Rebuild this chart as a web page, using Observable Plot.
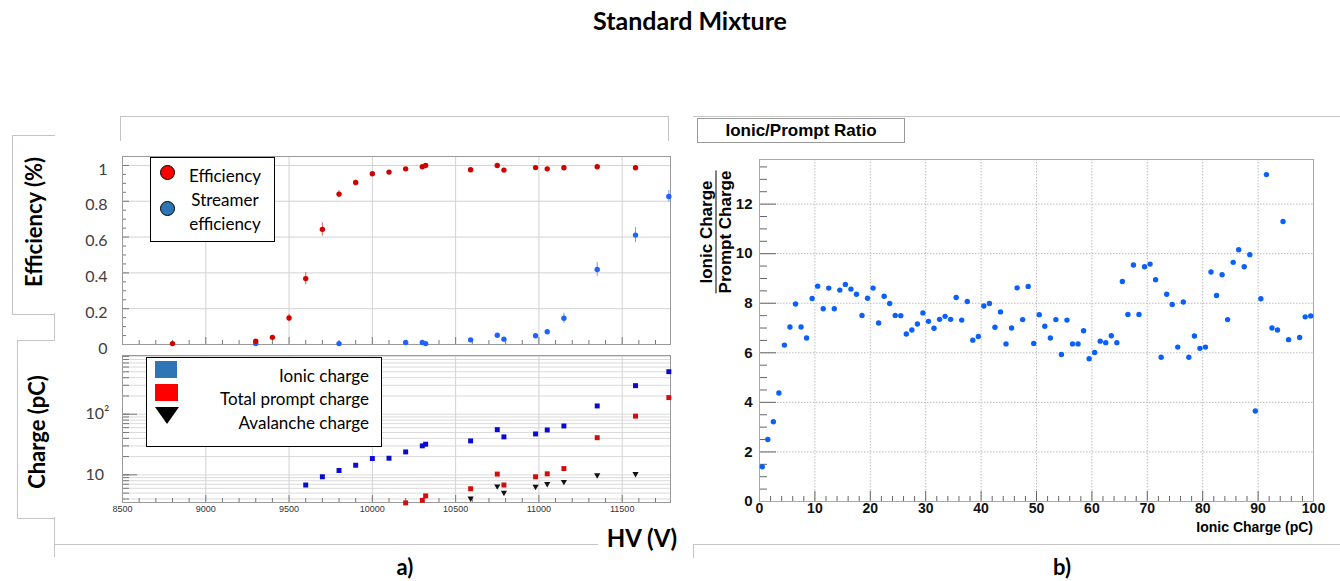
<!DOCTYPE html>
<html><head><meta charset="utf-8">
<script src="https://cdn.jsdelivr.net/npm/d3@7"></script>
<script src="https://cdn.jsdelivr.net/npm/@observablehq/plot@0.6"></script>
<style>
html,body{margin:0;padding:0;background:#fff;}
#root{position:relative;width:1340px;height:581px;overflow:hidden;background:#fff;font-family:Lato,"Open Sans",sans-serif;}
#root svg{position:absolute;overflow:visible;}
</style></head><body><div id="root"></div>
<script>
// ---------------- DATA ----------------
// a) top: efficiency vs HV
const effHV  = [8800, 9300, 9400, 9500, 9600, 9700, 9800, 9900, 10000, 10100, 10200, 10300, 10320, 10590, 10750, 10790, 10980, 11050, 11150, 11350, 11580];
const effVal = [0.005, 0.018, 0.04, 0.148, 0.368, 0.643, 0.84, 0.905, 0.954, 0.963, 0.981, 0.993, 1.0, 0.976, 1.0, 0.974, 0.988, 0.981, 0.987, 0.993, 0.987];
const effErr = [0.003, 0.006, 0.008, 0.021, 0.034, 0.037, 0.02, 0.012, 0.008, 0.006, 0.005, 0.004, 0.003, 0.005, 0.003, 0.005, 0.004, 0.005, 0.004, 0.004, 0.005];
const strHV  = [9300, 9800, 10200, 10300, 10320, 10590, 10750, 10790, 10980, 11050, 11150, 11350, 11580, 11780];
const strVal = [0.005, 0.005, 0.011, 0.011, 0.005, 0.026, 0.052, 0.03, 0.049, 0.071, 0.147, 0.419, 0.611, 0.827];
const strErr = [0.003, 0.003, 0.004, 0.004, 0.003, 0.006, 0.008, 0.006, 0.008, 0.01, 0.028, 0.039, 0.042, 0.033];
// a) bottom: charges vs HV (pC)
const ionicHV  = [9600, 9700, 9800, 9900, 10000, 10100, 10200, 10300, 10320, 10590, 10750, 10790, 10980, 11050, 11150, 11350, 11580, 11780];
const ionicVal = [6.8, 9.3, 11.8, 14.4, 18.6, 18.8, 23.9, 30.1, 32, 36.3, 55.7, 42.3, 47.3, 55, 64, 137, 296, 503];
const promptHV  = [10200, 10300, 10320, 10590, 10750, 10790, 10980, 11050, 11150, 11350, 11580, 11780];
const promptVal = [3.45, 3.8, 4.5, 5.9, 10.3, 6.8, 9.3, 10.4, 12.7, 41, 93, 188];
const avalHV  = [10590, 10750, 10790, 10980, 11050, 11150, 11350, 11580];
const avalVal = [4.1, 6.5, 5.1, 6.4, 7.1, 7.7, 9.9, 10.4];
// b) ionic/prompt ratio vs ionic charge
const ratioCharge = [0.5,1.5,2.5,3.5,4.5,5.5,6.5,7.5,8.5,9.5,10.5,11.5,12.5,13.5,14.5,15.5,16.5,17.5,18.5,19.5,
  20.5,21.5,22.5,23.5,24.5,25.5,26.5,27.5,28.5,29.5,30.5,31.5,32.5,33.5,34.5,35.5,36.5,37.5,38.5,39.5,
  40.5,41.5,42.5,43.5,44.5,45.5,46.5,47.5,48.5,49.5,50.5,51.5,52.5,53.5,54.5,55.5,56.5,57.5,58.5,59.5,
  60.5,61.5,62.5,63.5,64.5,65.5,66.5,67.5,68.5,69.5,70.5,71.5,72.5,73.5,74.5,75.5,76.5,77.5,78.5,79.5,
  80.5,81.5,82.5,83.5,84.5,85.5,86.5,87.5,88.5,89.5,90.5,91.5,92.5,93.5,94.5,95.5,97.5,98.5,99.5];
const ratioVal = [1.4,2.5,3.22,4.38,6.31,7.04,7.97,7.04,6.6,8.19,8.69,7.78,8.61,7.78,8.53,8.76,8.57,8.36,7.51,8.2,
  8.61,7.2,8.28,7.99,7.51,7.5,6.76,6.92,7.16,7.61,7.27,6.99,7.35,7.47,7.35,8.23,7.32,8.07,6.51,6.66,
  7.89,7.99,7.03,7.65,6.36,7.0,8.62,7.34,8.68,6.38,7.54,7.07,6.6,7.34,5.93,7.32,6.36,6.36,6.89,5.76,
  6.01,6.47,6.41,6.69,6.41,8.88,7.55,9.54,7.55,9.47,9.58,8.95,5.82,8.36,7.95,6.23,8.05,5.82,6.68,6.18,
  6.23,9.26,8.31,9.15,7.34,9.65,10.16,9.47,9.96,3.65,8.18,13.19,7.0,6.92,11.3,6.53,6.62,7.45,7.49];
// ticks
const hvTicks = [8500, 9000, 9500, 10000, 10500, 11000, 11500];
const effTicks = [0, 0.2, 0.4, 0.6, 0.8, 1];
const chargeTickLabels = [10, 100];
const ratioYTicks = [0, 2, 4, 6, 8, 10, 12];
const ratioXTicks = [0, 10, 20, 30, 40, 50, 60, 70, 80, 90, 100];
const hvDomain = [8500, 11790];
const effDomain = [0, 1.05];
const chargeDomain = [3.5, 930];
const ratioXDomain = [0, 100];
const ratioYDomain = [0, 13.8];

// ---------------- TABLES ----------------
const effRows = effHV.map((hv, i) => ({hv, v: effVal[i], e: effErr[i]}));
const strRows = strHV.map((hv, i) => ({hv, v: strVal[i], e: strErr[i]}));
const ionicRows = ionicHV.map((hv, i) => ({hv, v: ionicVal[i]}));
const promptRows = promptHV.map((hv, i) => ({hv, v: promptVal[i]}));
const avalRows = avalHV.map((hv, i) => ({hv, v: avalVal[i]}));
const ratioRows = ratioCharge.map((q, i) => ({q, r: ratioVal[i]}));

const hvMinor = d3.range(8600, 11790, 100).filter(d => d % 500 !== 0);
const effMinor = d3.range(0.05, 1.05, 0.05).filter(d => Math.abs(d * 5 - Math.round(d * 5)) > 1e-6);
const chargeGrid = [];
for (const p of [1, 10, 100]) for (let m = 1; m <= 9; m++) { const v = m * p; if (v >= 3.5 && v <= 930) chargeGrid.push(v); }
const ratioYMinor = d3.range(0.5, 13.8, 0.5).filter(d => d % 2 !== 0);
const ratioXMinor = d3.range(2, 100, 2).filter(d => d % 10 !== 0);

const root = document.getElementById("root");
function el(style, text, html) {
  const e = document.createElement("div");
  e.style.position = "absolute";
  Object.assign(e.style, style);
  if (html != null) e.innerHTML = html; else if (text != null) e.textContent = text;
  root.appendChild(e);
  return e;
}
function place(svg, left, top) { svg.style.left = left + "px"; svg.style.top = top + "px"; root.appendChild(svg); }

const ROOTFONT = "'Liberation Sans Narrow','Liberation Sans',Arial,sans-serif";
const gridCol = "#d2d2d2";
const tickCol = "#777";

// ---------------- a) top ----------------
const AW = 548, AH = 188;
const plotA = Plot.plot({
  width: 62 + AW + 10, height: 10 + AH + 6,
  marginLeft: 62, marginRight: 10, marginTop: 10, marginBottom: 6,
  x: {domain: hvDomain, axis: null, label: null},
  y: {domain: effDomain, label: null},
  style: {background: "transparent", fontFamily: "Lato, sans-serif"},
  marks: [
    Plot.gridX(hvTicks.slice(1), {stroke: gridCol, strokeOpacity: 1}),
    Plot.gridY(effTicks.slice(1), {stroke: gridCol, strokeOpacity: 1}),
    Plot.tickY(effMinor, {insetRight: AW - 4, stroke: tickCol}),
    Plot.tickY(effTicks, {insetRight: AW - 7, stroke: tickCol}),
    Plot.tickX(hvMinor, {insetTop: AH - 4, stroke: tickCol}),
    Plot.tickX(hvTicks, {insetTop: AH - 7, stroke: tickCol}),
    Plot.frame({stroke: "#9a9a9a"}),
    Plot.axisY(effTicks, {tickSize: 0, tickPadding: 15, fontSize: 16, fill: "#404040", dy: 4, tickFormat: d => String(d)}),
    Plot.ruleX(effRows, {x: "hv", y1: d => d.v - d.e, y2: d => d.v + d.e, stroke: "#e06060"}),
    Plot.ruleX(strRows, {x: "hv", y1: d => d.v - d.e, y2: d => d.v + d.e, stroke: "#6f9cff"}),
    Plot.dot(strRows, {x: "hv", y: "v", r: 2.7, fill: "#1f63ff"}),
    Plot.dot(effRows, {x: "hv", y: "v", r: 2.7, fill: "#d00000"})
  ]
});
place(plotA, 60, 146);

// ---------------- a) bottom ----------------
const BW = 548, BH = 147;
const plotB = Plot.plot({
  width: 62 + BW + 10, height: 5 + BH + 20,
  marginLeft: 62, marginRight: 10, marginTop: 5, marginBottom: 20,
  x: {domain: hvDomain, label: null},
  y: {type: "log", domain: chargeDomain, axis: null, label: null},
  style: {background: "transparent", fontFamily: "Lato, sans-serif"},
  marks: [
    Plot.gridY(chargeGrid, {stroke: "#dadada", strokeOpacity: 1}),
    Plot.gridX(hvTicks.slice(1), {stroke: gridCol, strokeOpacity: 1}),
    Plot.tickY(chargeGrid, {insetRight: BW - 7, stroke: tickCol}),
    Plot.tickY(chargeTickLabels, {insetRight: BW - 15, stroke: tickCol}),
    Plot.tickX(hvMinor, {insetTop: BH - 4, stroke: tickCol}),
    Plot.tickX(hvTicks, {insetTop: BH - 7, stroke: tickCol}),
    Plot.frame({stroke: "#9a9a9a"}),
    Plot.axisX(hvTicks, {tickSize: 0, tickPadding: 3, fontSize: 9, fontFamily: "'Liberation Sans',Arial,sans-serif", fill: "#333", tickFormat: d => String(d)}),
    Plot.text(chargeTickLabels, {y: d => d, frameAnchor: "left", textAnchor: "start", dx: -37, text: d => d === 100 ? "10²" : "10", fontSize: 16, fill: "#404040"}),
    Plot.dot(ionicRows, {x: "hv", y: "v", symbol: "square", r: 2.8, fill: "#0a0ad2"}),
    Plot.dot(promptRows, {x: "hv", y: "v", symbol: "square", r: 2.8, fill: "#d40c0c"}),
    Plot.dot(avalRows, {x: "hv", y: "v", symbol: "triangle", rotate: 180, r: 2.3, fill: "#111"})
  ]
});
place(plotB, 60, 350);

// ---------------- b) ratio ----------------
const CW = 554, CH = 342;
const plotC = Plot.plot({
  width: 59 + CW + 27, height: 9 + CH + 45,
  marginLeft: 59, marginRight: 27, marginTop: 9, marginBottom: 45,
  x: {domain: ratioXDomain, label: null},
  y: {domain: ratioYDomain, label: null},
  style: {background: "transparent", fontFamily: ROOTFONT},
  marks: [
    Plot.gridX(ratioXTicks.slice(1, -1), {stroke: "#bdbdbd", strokeOpacity: 1, strokeDasharray: "1.5,1.5"}),
    Plot.gridY(ratioYTicks.slice(1), {stroke: "#bdbdbd", strokeOpacity: 1, strokeDasharray: "1.5,1.5"}),
    Plot.tickY(ratioYMinor, {insetRight: CW - 8, stroke: "#666"}),
    Plot.tickY(ratioYTicks, {insetRight: CW - 17, stroke: "#666"}),
    Plot.tickX(ratioXMinor, {insetTop: CH - 5, stroke: "#666"}),
    Plot.tickX(ratioXTicks, {insetTop: CH - 10, stroke: "#666"}),
    Plot.frame({stroke: "#a8a8a8"}),
    Plot.axisY(ratioYTicks, {tickSize: 0, tickPadding: 7, fontSize: 15, fontWeight: "bold", fill: "#111", tickFormat: d => String(d)}),
    Plot.axisX(ratioXTicks, {tickSize: 0, tickPadding: 2, fontSize: 14, fontWeight: "bold", fill: "#111", tickFormat: d => String(d)}),
    Plot.dot(ratioRows, {x: "q", y: "r", r: 2.7, fill: "#0a60f8"})
  ]
});
place(plotC, 700, 150);

// ---------------- frame lines / boxes ----------------
const g = "1px solid #c4c4c4";
el({left: "120px", top: "116px", width: "547px", height: "24px", borderTop: g, borderLeft: g, borderRight: g});
el({left: "693px", top: "116px", width: "647px", height: "0", borderTop: g});
el({left: "54px", top: "544px", width: "544px", height: "0", borderTop: g});
el({left: "693px", top: "544px", width: "647px", height: "13px", borderTop: g, borderLeft: g});
el({left: "12px", top: "135px", width: "42px", height: "178px", borderTop: g, borderLeft: g, borderBottom: g, background: "#fff"});
el({left: "54px", top: "313px", width: "0", height: "27px", borderLeft: g});
el({left: "17px", top: "340px", width: "37px", height: "177px", borderTop: g, borderLeft: g, borderBottom: g, background: "#fff"});
el({left: "54px", top: "517px", width: "0", height: "40px", borderLeft: g});

// ---------------- texts ----------------
el({left: "690px", top: "20px", transform: "translate(-50%,-50%)", font: "bold 25px Lato, sans-serif", color: "#000", whiteSpace: "nowrap"}, "Standard Mixture");
el({left: "33px", top: "222px", transform: "translate(-50%,-50%) rotate(-90deg)", font: "bold 22px Lato, sans-serif", whiteSpace: "nowrap"}, "Efficiency (%)");
el({left: "36px", top: "432px", transform: "translate(-50%,-50%) rotate(-90deg)", font: "bold 22px Lato, sans-serif", whiteSpace: "nowrap"}, "Charge (pC)");
el({left: "604px", top: "522px", width: "76px", height: "32px", background: "#fff"});
el({left: "642px", top: "537px", transform: "translate(-50%,-50%)", font: "bold 24px Lato, sans-serif", whiteSpace: "nowrap"}, "HV (V)");
el({left: "405px", top: "566px", transform: "translate(-50%,-50%)", font: "bold 22px Lato, sans-serif"}, "a)");
el({left: "1062px", top: "566px", transform: "translate(-50%,-50%)", font: "bold 22px Lato, sans-serif"}, "b)");

// legend a) top
el({left: "150px", top: "157px", width: "123px", height: "83px", border: "1.5px solid #000", background: "#fff"});
el({left: "160px", top: "165px", width: "13px", height: "13px", borderRadius: "50%", background: "#ff0000", border: "1px solid #000"});
el({left: "160px", top: "201px", width: "13px", height: "13px", borderRadius: "50%", background: "#2e75b6", border: "1px solid #000"});
el({left: "225px", top: "175px", transform: "translate(-50%,-50%)", font: "17px Lato, sans-serif", whiteSpace: "nowrap"}, "Efficiency");
el({left: "225px", top: "199px", transform: "translate(-50%,-50%)", font: "17px Lato, sans-serif", whiteSpace: "nowrap"}, "Streamer");
el({left: "225px", top: "223px", transform: "translate(-50%,-50%)", font: "17px Lato, sans-serif", whiteSpace: "nowrap"}, "efficiency");

// legend a) bottom
el({left: "146px", top: "357px", width: "234px", height: "88px", border: "1.5px solid #000", background: "#fff"});
el({left: "155px", top: "361px", width: "22px", height: "17px", background: "#2e75b6"});
el({left: "155px", top: "384px", width: "23px", height: "17px", background: "#ff0000"});
el({left: "155px", top: "407px", width: "0", height: "0", borderLeft: "12.5px solid transparent", borderRight: "12.5px solid transparent", borderTop: "17px solid #000"});
el({right: (1340 - 369) + "px", top: "375px", transform: "translateY(-50%)", font: "17px Lato, sans-serif", whiteSpace: "nowrap"}, "Ionic charge");
el({right: (1340 - 369) + "px", top: "398px", transform: "translateY(-50%)", font: "17px Lato, sans-serif", whiteSpace: "nowrap"}, "Total prompt charge");
el({right: (1340 - 369) + "px", top: "422px", transform: "translateY(-50%)", font: "17px Lato, sans-serif", whiteSpace: "nowrap"}, "Avalanche charge");

// b) panel texts
el({left: "697px", top: "118px", width: "206px", height: "23px", border: "1px solid #999", background: "#fff", font: "bold 17px " + ROOTFONT, textAlign: "center", lineHeight: "23px"}, "Ionic/Prompt Ratio");
el({right: (1340 - 1313) + "px", top: "527px", transform: "translateY(-50%)", font: "bold 14px " + ROOTFONT, whiteSpace: "nowrap", lineHeight: "15px"}, "Ionic Charge (pC)");
el({left: "716px", top: "232px", transform: "translate(-50%,-50%) rotate(-90deg)", font: "bold 17px " + ROOTFONT, textAlign: "center", whiteSpace: "nowrap", lineHeight: "18px"}, null,
  '<div style="padding:0 6px">Ionic Charge</div><div style="border-top:1.5px solid #000;margin:0"></div><div>Prompt Charge</div>');
</script>
</body></html>
